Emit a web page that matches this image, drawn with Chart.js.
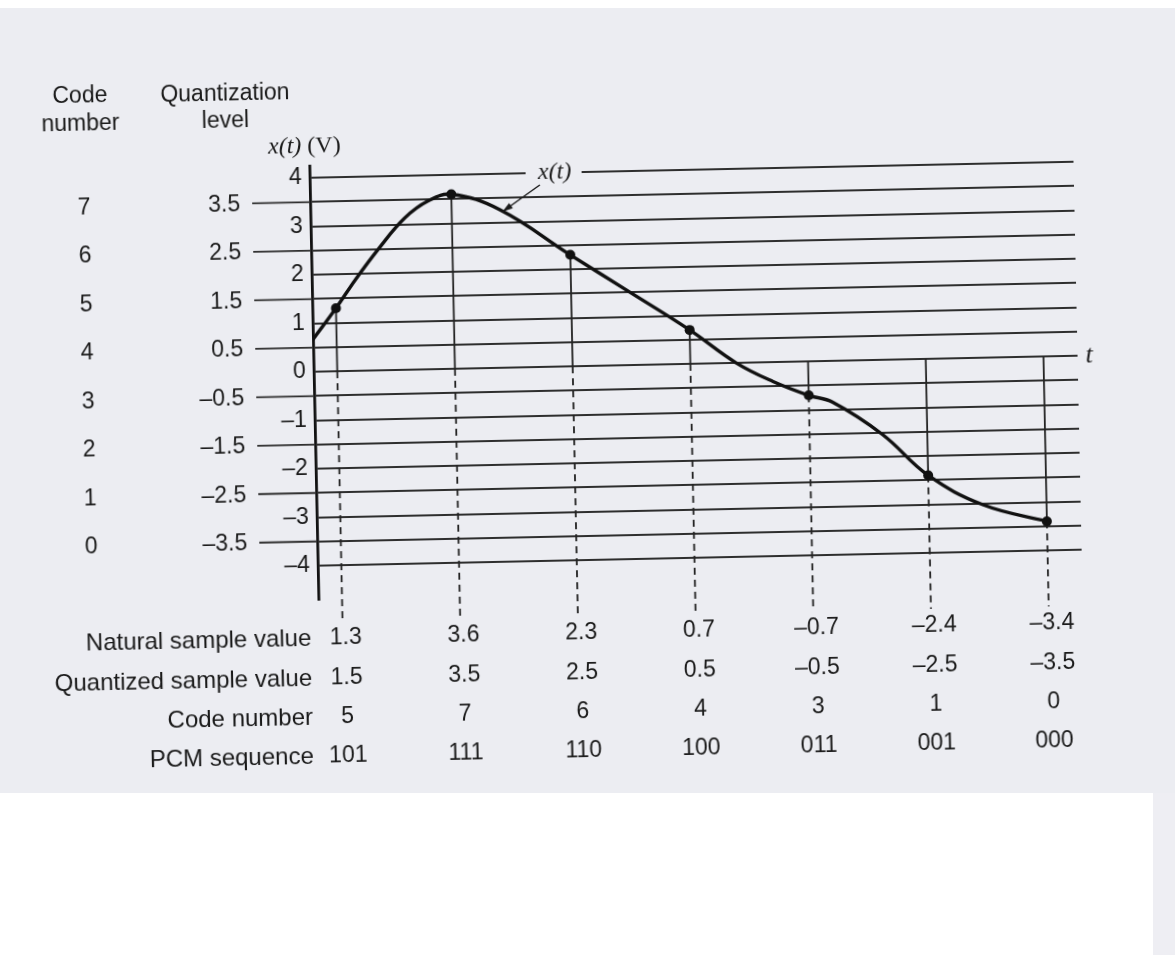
<!DOCTYPE html>
<html>
<head>
<meta charset="utf-8">
<script src="https://cdn.jsdelivr.net/npm/chart.js@4"></script>
<style>
  body { margin: 0; background: #fff; width: 1175px; height: 955px; overflow: hidden; position: relative; }
  .scan { position: absolute; left: 0; top: 8px; width: 1175px; height: 785px; background: #ecedf2; }
  .scan-edge { position: absolute; left: 1153px; top: 793px; width: 22px; height: 162px; background: #eeeef3; }
  #pcm { position: absolute; left: 0; top: 0; transform: rotate(-1.2deg); transform-origin: 50% 50%; }
</style>
</head>
<body>
<div class="scan"></div>
<div class="scan-edge"></div>
<canvas id="pcm" width="1175" height="955"></canvas>
<script>
// sample instants and the values read at them
const sampleT = [0.2, 1.2, 2.2, 3.2, 4.2, 5.2, 6.2];
const naturalValues = [1.3, 3.6, 2.3, 0.7, -0.7, -2.4, -3.4];
const quantizedValues = [1.5, 3.5, 2.5, 0.5, -0.5, -2.5, -3.5];
const codeNumbers = [5, 7, 6, 4, 3, 1, 0];
const pcmSequence = ["101", "111", "110", "100", "011", "001", "000"];

// analog signal x(t)
const curveT = [0, 0.2, 0.37, 0.57, 0.8, 1.0, 1.2, 1.61, 2.2, 2.67, 3.2, 3.59, 3.9, 4.2, 4.4, 4.82, 5.2, 5.66, 6.2];
const curveV = [0.67, 1.3, 1.88, 2.5, 3.13, 3.47, 3.6, 3.26, 2.3, 1.55, 0.7, 0.0, -0.4, -0.7, -0.85, -1.54, -2.4, -3.03, -3.4];

// quantization levels and their code numbers, plus the grid ticks
const quantLevels = [3.5, 2.5, 1.5, 0.5, -0.5, -1.5, -2.5, -3.5];
const levelCodes = [7, 6, 5, 4, 3, 2, 1, 0];
const yTicks = [-4, -3.5, -3, -2.5, -2, -1.5, -1, -0.5, 0, 0.5, 1, 1.5, 2, 2.5, 3, 3.5, 4];

const INK = "#1a1a1a";
const GRID = "#2e2e2e";
const SANS = '"Liberation Sans", Arial, sans-serif';
const SERIF = '"Liberation Serif", "DejaVu Serif", serif';

function fmt(v) {
    return v < 0 ? "\u2013" + Math.abs(v) : String(v);
}

function seg(ctx, x1, y1, x2, y2) {
    ctx.beginPath();
    ctx.moveTo(x1, y1);
    ctx.lineTo(x2, y2);
    ctx.stroke();
}

const pcmExtras = {
    id: "pcmExtras",
    beforeDatasetsDraw(chart) {
        const {ctx, scales: {x, y}} = chart;
        const y0 = y.getPixelForValue(0);
        ctx.save();

        // quantization level lines reach out to the level labels
        ctx.strokeStyle = GRID;
        ctx.lineWidth = 1.9;
        quantLevels.forEach(v => {
            const py = y.getPixelForValue(v);
            seg(ctx, 258, py, x.left, py);
        });

        // sample verticals: solid between signal and t axis, dashed below
        ctx.strokeStyle = "#222";
        sampleT.forEach((t, i) => {
            const px = x.getPixelForValue(t);
            const py = y.getPixelForValue(naturalValues[i]);
            ctx.lineWidth = 1.8;
            ctx.setLineDash([]);
            seg(ctx, px, py, px, y0);
            ctx.setLineDash([7, 5]);
            seg(ctx, px, Math.max(py, y0), px, 616);
        });
        ctx.setLineDash([]);

        // gap in the top line for the x(t) label
        ctx.globalCompositeOperation = "destination-out";
        ctx.fillRect(532, y.getPixelForValue(4) - 4, 56, 8);
        ctx.restore();
    },
    afterDraw(chart) {
        const {ctx, scales: {x, y}} = chart;
        ctx.save();
        ctx.fillStyle = INK;
        ctx.textBaseline = "middle";

        // column headers
        ctx.font = "23px " + SANS;
        ctx.textAlign = "center";
        ctx.fillText("Code", 88, 86);
        ctx.fillText("number", 88, 114);
        ctx.fillText("Quantization", 233, 87);
        ctx.fillText("level", 233, 114);

        // x(t) (V) axis title
        ctx.textAlign = "left";
        ctx.font = "italic 24px " + SERIF;
        ctx.fillText("x(t)", 275, 141);
        const w = ctx.measureText("x(t)").width;
        ctx.font = "24px " + SERIF;
        ctx.fillText(" (V)", 275 + w, 141);

        // code numbers and quantization levels
        quantLevels.forEach((v, i) => {
            const py = y.getPixelForValue(v);
            ctx.font = "23px " + SANS;
            ctx.textAlign = "center";
            ctx.fillText(String(levelCodes[i]), 90, py + 1);
            ctx.textAlign = "right";
            ctx.fillText(fmt(v), 246, py + 1);
        });

        // t label
        ctx.textAlign = "left";
        ctx.font = "italic 26px " + SERIF;
        ctx.fillText("t", 1088, y.getPixelForValue(0));

        // x(t) annotation with arrow
        ctx.font = "italic 24px " + SERIF;
        ctx.textAlign = "center";
        ctx.fillText("x(t)", 561, y.getPixelForValue(4));
        ctx.strokeStyle = INK;
        ctx.lineWidth = 1.5;
        const ax1 = 546, ay1 = 184, ax2 = 508, ay2 = 210;
        seg(ctx, ax1, ay1, ax2, ay2);
        const ang = Math.atan2(ay2 - ay1, ax2 - ax1);
        ctx.beginPath();
        ctx.moveTo(ax2, ay2);
        ctx.lineTo(ax2 - 11 * Math.cos(ang - 0.3), ay2 - 11 * Math.sin(ang - 0.3));
        ctx.lineTo(ax2 - 11 * Math.cos(ang + 0.3), ay2 - 11 * Math.sin(ang + 0.3));
        ctx.closePath();
        ctx.fill();

        // table under the plot
        const rows = [
            ["Natural sample value", naturalValues.map(fmt), 633],
            ["Quantized sample value", quantizedValues.map(fmt), 673],
            ["Code number", codeNumbers.map(String), 712],
            ["PCM sequence", pcmSequence, 751]
        ];
        rows.forEach(([label, vals, ry]) => {
            ctx.font = "24px " + SANS;
            ctx.textAlign = "right";
            ctx.fillText(label, 308, ry);
            ctx.font = "23px " + SANS;
            ctx.textAlign = "center";
            vals.forEach((s, i) => ctx.fillText(s, x.getPixelForValue(sampleT[i]) + 3, ry));
        });
        ctx.restore();
    }
};

new Chart(document.getElementById("pcm"), {
    type: "line",
    data: {
        datasets: [
            {
                data: curveT.map((t, i) => ({x: t, y: curveV[i]})),
                borderColor: "#111",
                borderWidth: 3.4,
                pointRadius: 0,
                tension: 0.4,
                fill: false
            },
            {
                data: sampleT.map((t, i) => ({x: t, y: naturalValues[i]})),
                showLine: false,
                pointRadius: 5,
                pointBackgroundColor: "#111",
                pointBorderColor: "#111",
                pointBorderWidth: 0
            }
        ]
    },
    options: {
        responsive: false,
        animation: false,
        events: [],
        layout: {padding: {top: 160, bottom: 361, left: 0, right: 95}},
        scales: {
            x: {type: "linear", min: 0, max: 6.49, display: false},
            y: {
                type: "linear",
                min: -4.7,
                max: 4.25,
                afterBuildTicks: s => { s.ticks = yTicks.map(v => ({value: v})); },
                afterFit: s => { s.width = 316; },
                grid: {color: GRID, lineWidth: 1.9, drawTicks: false},
                border: {display: true, color: "#111", width: 2.8},
                ticks: {
                    autoSkip: false,
                    padding: 8,
                    color: INK,
                    font: {family: SANS, size: 23},
                    callback: v => Number.isInteger(v) ? fmt(v) : ""
                }
            }
        },
        plugins: {legend: {display: false}, tooltip: {enabled: false}}
    },
    plugins: [pcmExtras]
});
</script>
</body>
</html>
